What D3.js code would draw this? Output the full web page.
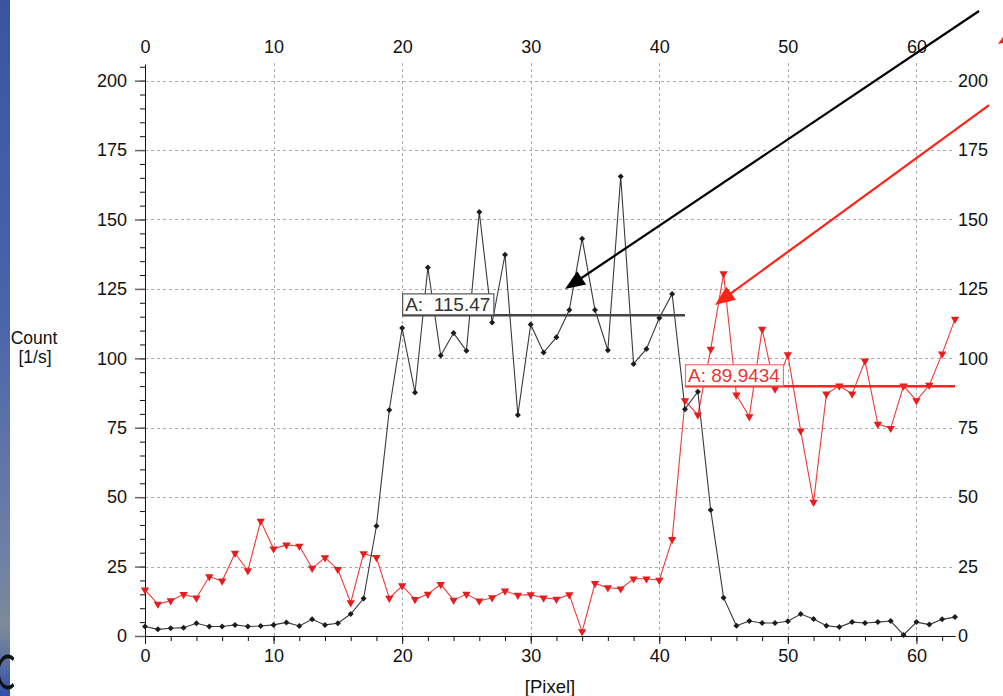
<!DOCTYPE html>
<html>
<head>
<meta charset="utf-8">
<script src="https://cdn.jsdelivr.net/npm/d3@7"></script>
<style>
  html, body { margin: 0; padding: 0; background: #fff; overflow: hidden; }
  svg { display: block; font-family: "Liberation Sans", Arial, sans-serif; }
</style>
</head>
<body>
<svg id="chart" width="1003" height="696"></svg>
<script>
// ---- data -------------------------------------------------------------
const pixels = d3.range(64);                 // pixel index 0..63

const countBlack = [
  3.4, 2.4, 2.8, 3.0, 4.6, 3.4, 3.4, 4.0, 3.4, 3.6,
  4.0, 4.9, 3.6, 6.0, 4.0, 4.6, 7.9, 13.5, 39.6, 81.4,
  110.9, 87.7, 132.7, 101.0, 109.1, 102.7, 152.7, 112.9, 137.3, 79.6,
  112.2, 102.1, 107.6, 117.4, 143.1, 117.4, 102.9, 165.5, 98.0, 103.4,
  114.5, 123.2, 81.7, 88.0, 45.4, 13.8, 3.7, 5.4, 4.7, 4.7,
  5.3, 7.9, 6.1, 3.7, 3.2, 5.0, 4.7, 5.0, 5.4, 0.4,
  5.0, 4.1, 6.0, 6.8
];

const countRed = [
  16.6, 11.5, 12.7, 15.0, 13.7, 21.4, 19.8, 29.8, 23.5, 41.4,
  31.4, 32.8, 32.4, 24.4, 28.2, 24.0, 12.0, 29.7, 28.3, 13.6,
  18.1, 13.2, 15.1, 18.6, 12.9, 15.1, 12.6, 13.8, 16.2, 14.7,
  14.9, 13.7, 13.3, 14.9, 1.6, 18.9, 17.4, 17.0, 20.6, 20.6,
  20.1, 34.8, 84.8, 79.6, 103.3, 130.5, 86.8, 79.0, 110.5, 89.0,
  101.3, 73.9, 48.2, 87.2, 90.1, 87.2, 99.1, 76.3, 74.8, 90.1,
  84.8, 90.3, 101.6, 114.1
];

// averages shown as horizontal markers: [value, from pixel, to pixel]
const avgBlack = [115.47, 20, 42];
const avgRed   = [89.9434, 42, 63];
const avgBlackLabel = "A:  115.47";
const avgRedLabel   = "A: 89.9434";

const xMajorTicks = [0, 10, 20, 30, 40, 50, 60];
const yMajorTicks = [0, 25, 50, 75, 100, 125, 150, 175, 200];
const xMinorTicks = d3.range(0, 64, 2);
const yMinorTicks = d3.range(0, 206, 5);

// pointer arrows in data units: [fromX, fromY, toX, toY]
const arrowBlack = [64.87, 225.1, 32.67, 124.96];
const arrowRed   = [65.65, 191.2, 44.33, 119.2];
const arrowRedTop = [81.9, 261.4, 66.34, 213.2];

// ---- scales -----------------------------------------------------------
const svg = d3.select("#chart");
const x = d3.scaleLinear().domain([0, 63]).range([145, 955]);
const y = d3.scaleLinear().domain([0, 206]).range([636, 64]);

const BLACK_LINE = "#3a3a3a", BLACK_MARK = "#1c1c1c";
const RED_LINE = "#f03a3a", RED_MARK = "#e81c1c";
const TICK_FS = 18;

// ---- slide background strip on the left --------------------------------
const defs = svg.append("defs");
const grad = defs.append("linearGradient").attr("id", "strip")
  .attr("x1", 0).attr("y1", 0).attr("x2", 0).attr("y2", 1);
[[0, "#3a55a0"], [0.45, "#4a64aa"], [0.8, "#6e80a6"], [0.9, "#7d8a9a"],
 [0.95, "#5a6fa2"], [1, "#2f4ea8"]].forEach(([o, c]) =>
  grad.append("stop").attr("offset", o).attr("stop-color", c));
svg.append("rect").attr("x", 0).attr("y", 0).attr("width", 10).attr("height", 696)
  .attr("fill", "url(#strip)");
// edge of a slide glyph peeking in at the bottom left
svg.append("path")
  .attr("d", d3.arc()({ innerRadius: 10.5, outerRadius: 13.5, startAngle: Math.PI * 0.8, endAngle: Math.PI * 2.2 }))
  .attr("transform", "translate(8,672) scale(0.8,1.3)")
  .attr("fill", "#111");

// ---- grid -------------------------------------------------------------
const grid = svg.append("g").attr("stroke", "#aaa").attr("stroke-width", 1)
  .attr("stroke-dasharray", "3,3");
grid.selectAll(".hg").data(yMajorTicks.filter(d => d > 0)).join("line")
  .attr("x1", x(0)).attr("x2", x(63))
  .attr("y1", d => Math.round(y(d)) + 0.5).attr("y2", d => Math.round(y(d)) + 0.5);
grid.selectAll(".vg").data(xMajorTicks.filter(d => d > 0)).join("line")
  .attr("x1", d => Math.round(x(d)) + 0.5).attr("x2", d => Math.round(x(d)) + 0.5)
  .attr("y1", y(0)).attr("y2", 62);

// ---- axes -------------------------------------------------------------
function styleAxis(g) {
  g.selectAll("text").attr("font-size", TICK_FS).attr("fill", "#111")
    .attr("font-family", "Liberation Sans, Arial, sans-serif");
  g.selectAll("line").attr("stroke", "#111");
  g.select(".domain").attr("stroke", "#111");
}

// left axis: minor then major ticks
svg.append("g").attr("transform", `translate(${x(0)},0)`)
  .call(d3.axisLeft(y).tickValues(yMinorTicks).tickSize(5).tickSizeOuter(0).tickFormat(""))
  .call(styleAxis);
svg.append("g").attr("transform", `translate(${x(0)},0)`)
  .call(d3.axisLeft(y).tickValues(yMajorTicks).tickSize(10).tickPadding(8).tickSizeOuter(0))
  .call(g => { styleAxis(g); g.select(".domain").remove();
               g.selectAll("line").attr("stroke", "#666").attr("stroke-width", 1.5); });

// bottom axis
svg.append("g").attr("transform", `translate(0,${y(0)})`)
  .call(d3.axisBottom(x).tickValues(xMinorTicks).tickSize(5).tickSizeOuter(0).tickFormat(""))
  .call(styleAxis);
svg.append("g").attr("transform", `translate(0,${y(0)})`)
  .call(d3.axisBottom(x).tickValues(xMajorTicks).tickSize(8).tickPadding(5).tickSizeOuter(0))
  .call(g => { styleAxis(g); g.select(".domain").remove(); });

// top axis: labels only
svg.append("g").attr("transform", `translate(0,${y(206)})`)
  .call(d3.axisTop(x).tickValues(xMajorTicks).tickSize(0).tickPadding(11))
  .call(g => { styleAxis(g); g.select(".domain").remove(); g.selectAll("line").remove(); });

// right axis: labels only
svg.append("g").attr("transform", `translate(${x(63)},0)`)
  .call(d3.axisRight(y).tickValues(yMajorTicks).tickSize(0).tickPadding(3))
  .call(g => { styleAxis(g); g.select(".domain").remove(); g.selectAll("line").remove(); });

// axis titles
svg.append("text").attr("x", 34).attr("y", 344).attr("text-anchor", "middle")
  .attr("font-size", 17.5).attr("fill", "#111").text("Count");
svg.append("text").attr("x", 35).attr("y", 363).attr("text-anchor", "middle")
  .attr("font-size", 17.5).attr("fill", "#111").text("[1/s]");
svg.append("text").attr("x", 550).attr("y", 693).attr("text-anchor", "middle")
  .attr("font-size", 18.5).attr("fill", "#111").text("[Pixel]");

// ---- series -----------------------------------------------------------
const line = d3.line().x((d, i) => x(pixels[i])).y(d => y(d));

svg.append("path").datum(countRed).attr("d", line)
  .attr("fill", "none").attr("stroke", RED_LINE).attr("stroke-width", 1.1);
svg.append("path").datum(countBlack).attr("d", line)
  .attr("fill", "none").attr("stroke", BLACK_LINE).attr("stroke-width", 1.1);

const tri = d3.symbol().type(d3.symbolTriangle).size(30)();
svg.append("g").selectAll("path").data(countRed).join("path")
  .attr("d", tri).attr("fill", RED_MARK)
  .attr("transform", (d, i) => `translate(${x(pixels[i])},${y(d)}) rotate(180)`);

const dia = d3.symbol().type(d3.symbolSquare).size(18)();
svg.append("g").selectAll("path").data(countBlack).join("path")
  .attr("d", dia).attr("fill", BLACK_MARK)
  .attr("transform", (d, i) => `translate(${x(pixels[i])},${y(d)}) rotate(45)`);

// ---- average markers with labels ----------------------------------------
function avgMarker(avg, label, lineColor, textColor, boxStroke) {
  const [v, x0, x1] = avg;
  const yy = y(v);
  svg.append("line").attr("x1", x(x0)).attr("x2", x(x1))
    .attr("y1", yy).attr("y2", yy)
    .attr("stroke", lineColor).attr("stroke-width", 2.5);
  const g = svg.append("g");
  const rect = g.append("rect");
  const t = g.append("text").attr("x", x(x0) + 3).attr("y", yy - 4.5)
    .attr("xml:space", "preserve").style("white-space", "pre")
    .attr("font-size", 19).attr("fill", textColor).text(label);
  const w = t.node().getComputedTextLength();
  rect.attr("x", x(x0) + 0.5).attr("y", yy - 21.5).attr("width", w + 6).attr("height", 21)
    .attr("fill", "#fff").attr("stroke", boxStroke).attr("stroke-width", 1.2);
}
avgMarker(avgBlack, avgBlackLabel, "#454545", "#333", "#555");
avgMarker(avgRed, avgRedLabel, "#ff2424", "#e83535", "#f07070");

// ---- pointer arrows ---------------------------------------------------
function arrow(a, color, headLen, headHalf) {
  const [fx, fy, tx, ty] = a;
  const p0 = [x(fx), y(fy)], p1 = [x(tx), y(ty)];
  const dx = p1[0] - p0[0], dy = p1[1] - p0[1];
  const len = Math.hypot(dx, dy), ux = dx / len, uy = dy / len;
  const bx = p1[0] - ux * headLen, by = p1[1] - uy * headLen;
  svg.append("line").attr("x1", p0[0]).attr("y1", p0[1]).attr("x2", bx + ux * 2).attr("y2", by + uy * 2)
    .attr("stroke", color).attr("stroke-width", 2.2);
  svg.append("path")
    .attr("d", `M${p1[0]},${p1[1]}L${bx - uy * headHalf},${by + ux * headHalf}L${bx + uy * headHalf},${by - ux * headHalf}Z`)
    .attr("fill", color);
}
arrow(arrowBlack, "#000", 20, 8);
arrow(arrowRed, "#ff2216", 20, 8);
arrow(arrowRedTop, "#ff2216", 20, 8);
</script>
</body>
</html>
